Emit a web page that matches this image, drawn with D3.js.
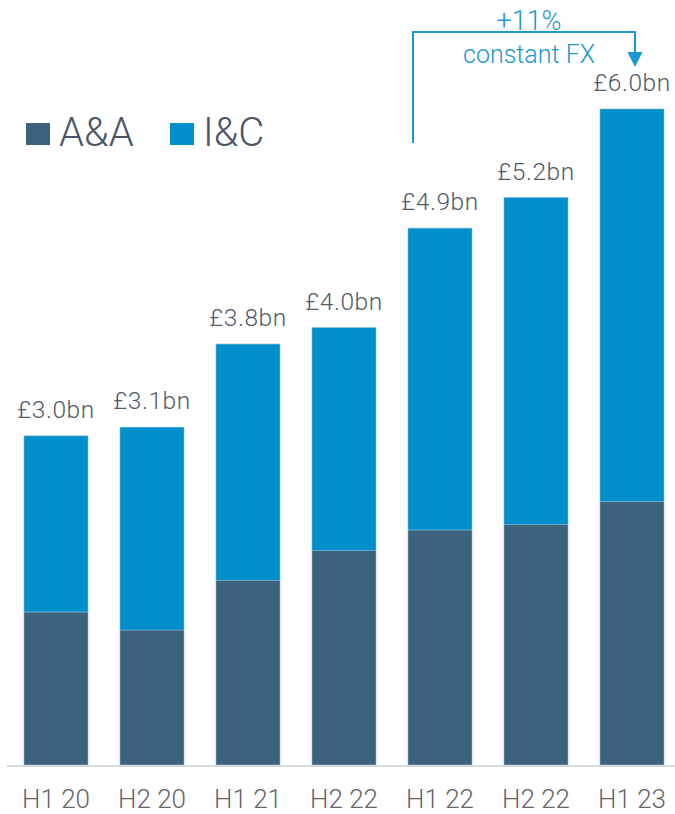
<!DOCTYPE html>
<html lang="en">
<head>
  <meta charset="UTF-8">
  <title>Revenue by half year</title>
  <script src="https://d3js.org/d3.v7.min.js"></script>
  <style>
    body { margin: 0; background: #fff; }
    svg text { font-family: Roboto, 'Noto Sans', sans-serif; font-weight: 300; }
  </style>
</head>
<body>
  <script>
    var categories = ["H1 20", "H2 20", "H1 21", "H2 22", "H1 22", "H2 22", "H1 23"];
    var aaValues = [1.40, 1.235, 1.69, 1.96, 2.15, 2.20, 2.41];
    var icValues = [1.61, 1.855, 2.16, 2.04, 2.76, 2.99, 3.59];
    var totalLabels = ["£3.0bn", "£3.1bn", "£3.8bn", "£4.0bn", "£4.9bn", "£5.2bn", "£6.0bn"];
    var seriesNames = ["A&A", "I&C"];
    var colors = { "A&A": "#3c627c", "I&C": "#008fcb" };

    var width = 675, height = 814;
    var svg = d3.select("body").append("svg")
      .attr("width", width)
      .attr("height", height);

    var x = d3.scaleBand()
      .domain(d3.range(categories.length))
      .range([8, 680])
      .paddingInner(1 / 3)
      .paddingOuter(1 / 6);

    var y = d3.scaleLinear()
      .domain([0, 6.0])
      .range([765, 109]);

    var rows = categories.map(function(c, i) {
      return { idx: i, "A&A": aaValues[i], "I&C": icValues[i] };
    });
    var stacked = d3.stack().keys(seriesNames)(rows);

    svg.append("g").selectAll("g")
      .data(stacked)
      .join("g")
      .attr("fill", function(d) { return colors[d.key]; })
      .selectAll("rect")
      .data(function(d) { return d; })
      .join("rect")
      .attr("x", function(d) { return x(d.data.idx); })
      .attr("y", function(d) { return y(d[1]); })
      .attr("width", x.bandwidth())
      .attr("height", function(d) { return y(d[0]) - y(d[1]); })
      .attr("stroke", "#7fb4d6")
      .attr("stroke-width", 0.6);

    // baseline
    svg.append("line")
      .attr("x1", 7).attr("x2", 675)
      .attr("y1", y(0) + 1).attr("y2", y(0) + 1)
      .attr("stroke", "#d9d9d9")
      .attr("stroke-width", 2);

    // category labels
    svg.append("g").selectAll("text")
      .data(categories)
      .join("text")
      .attr("x", function(d, i) { return x(i) + x.bandwidth() / 2; })
      .attr("y", 808)
      .attr("text-anchor", "middle")
      .attr("font-size", 26)
      .attr("fill", "#666666")
      .text(function(d) { return d; });

    // totals above bars
    svg.append("g").selectAll("text")
      .data(totalLabels)
      .join("text")
      .attr("x", function(d, i) { return x(i) + x.bandwidth() / 2; })
      .attr("y", function(d, i) { return y(aaValues[i] + icValues[i]) - 18; })
      .attr("text-anchor", "middle")
      .attr("font-size", 24.5)
      .attr("fill", "#4f5b6b")
      .style("letter-spacing", "0.6px")
      .text(function(d) { return d; });

    // legend
    var legend = svg.append("g");
    var legendX = [26, 170];
    seriesNames.forEach(function(name, i) {
      legend.append("rect")
        .attr("x", legendX[i]).attr("y", 123)
        .attr("width", 24).attr("height", 22)
        .attr("fill", colors[name]);
      legend.append("text")
        .attr("x", legendX[i] + 33).attr("y", 146)
        .attr("font-size", 40)
        .attr("fill", "#4a5568")
        .text(name);
    });

    // growth annotation
    var annColor = "#1b97d1";
    var ax1 = x(4) + 5;
    var ax2 = x(6) + x.bandwidth() / 2 + 3;
    var topY = 32;
    svg.append("path")
      .attr("d", "M" + ax1 + "," + 143 + "V" + topY + "H" + ax2 + "V" + 54)
      .attr("fill", "none")
      .attr("stroke", annColor)
      .attr("stroke-width", 2);
    svg.append("path")
      .attr("d", "M" + (ax2 - 7.5) + ",52L" + (ax2 + 7.5) + ",52L" + ax2 + ",67Z")
      .attr("fill", annColor);
    var midX = (ax1 + ax2) / 2 + 5;
    svg.append("text")
      .attr("x", midX).attr("y", 30)
      .attr("text-anchor", "middle")
      .attr("font-size", 27)
      .attr("fill", annColor)
      .text("+11%");
    svg.append("text")
      .attr("x", midX).attr("y", 63)
      .attr("text-anchor", "middle")
      .attr("font-size", 25)
      .attr("fill", annColor)
      .text("constant FX");
  </script>
</body>
</html>
